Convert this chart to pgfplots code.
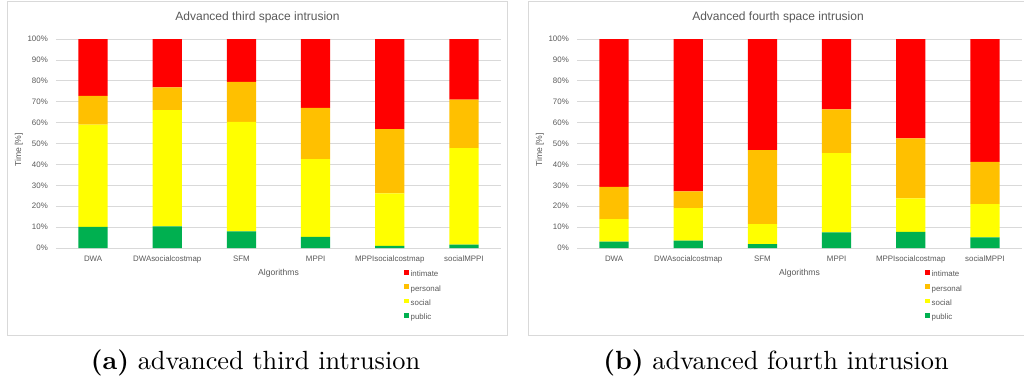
\documentclass[border=0pt]{standalone}
\usepackage{fontspec}
\setsansfont{Liberation Sans}
\newfontfamily\capfont{lmroman10}[Extension=.otf, UprightFont=*-regular, BoldFont=*-bold]
\usepackage{pgfplots}
\pgfplotsset{compat=1.18}
\usepackage{pgfplotstable}

\definecolor{cIntimate}{HTML}{FF0000}
\definecolor{cPersonal}{HTML}{FFC000}
\definecolor{cSocial}{HTML}{FFFF00}
\definecolor{cPublic}{HTML}{00B050}
\definecolor{txt}{HTML}{595959}
\definecolor{gridc}{HTML}{D9D9D9}

% share of time [%] spent in each proxemic zone
\pgfplotstableread{
idx public social personal intimate
0 10.1 48.9 13.8 27.2
1 10.4 55.6 10.8 23.2
2  7.9 52.5 19.1 20.5
3  5.3 37.2 24.5 33.0
4  1.0 25.1 30.8 43.1
5  1.6 46.2 23.2 29.0
}\thirdtab

\pgfplotstableread{
idx public social personal intimate
0 3.0 10.8 15.4 70.8
1 3.5 15.6  8.0 72.9
2 1.8  9.6 35.4 53.2
3 7.5 37.9 20.9 33.7
4 7.7 16.0 28.7 47.6
5 5.1 15.9 20.2 58.8
}\fourthtab

\newcommand{\lblfont}{\sffamily\fontsize{7.9}{9}\selectfont}
\newcommand{\axfont}{\sffamily\fontsize{8.6}{10}\selectfont}

\pgfplotsset{
  intrusion/.style={
    scale only axis, width=445pt, height=209pt,
    ybar stacked, bar width=29.3pt,
    xmin=-0.5, xmax=5.5, ymin=0, ymax=100,
    xtick={0,1,2,3,4,5},
    xticklabels={DWA,DWAsocialcostmap,SFM,MPPI,MPPIsocialcostmap,socialMPPI},
    ytick={0,10,20,30,40,50,60,70,80,90,100},
    yticklabels={0\%,10\%,20\%,30\%,40\%,50\%,60\%,70\%,80\%,90\%,100\%},
    axis line style={draw=none},
    major tick length=0pt,
    ymajorgrids, grid style={gridc, line width=0.8pt},
    tick label style={font=\lblfont, text=txt},
    yticklabel style={anchor=east, inner sep=0pt, xshift=-8pt},
    xticklabel style={anchor=north, inner sep=0pt, yshift=-8pt},
    xlabel={Algorithms},
    ylabel={Time [\%]},
    label style={font=\axfont, text=txt},
    xlabel style={at={(rel axis cs:0.5,0)}, anchor=center, yshift=-25pt},
    ylabel style={at={(rel axis cs:0,0.47)}, anchor=center, yshift=37pt},
    reverse legend,
    legend cell align=left,
    legend image code/.code={\fill[##1] (0pt,0pt) rectangle (4.7pt,4.7pt);},
    legend style={draw=none, fill=none, inner sep=0pt, outer sep=0pt,
      at={(rel axis cs:0.782,-0.105)}, anchor=north west,
      font=\lblfont, text=txt, column sep=2pt, row sep=5.9pt,
      nodes={inner sep=0pt, text height=5.8pt, text depth=1.6pt}},
  },
}

\begin{document}
\begin{tikzpicture}
\useasboundingbox (0pt,0pt) rectangle (1024pt,381pt);

% chart frames
\draw[gridc, line width=1pt] (7.3pt,46pt) rectangle (507.7pt,379.5pt);
\draw[gridc, line width=1pt] (528pt,46pt) rectangle (1030pt,379.5pt);

% chart titles
\node[font=\sffamily\fontsize{12}{14}\selectfont, text=txt] at (257.5pt,364pt) {Advanced third space intrusion};
\node[font=\sffamily\fontsize{12}{14}\selectfont, text=txt] at (778pt,364pt) {Advanced fourth space intrusion};

\begin{axis}[intrusion, at={(56pt,133pt)}, anchor=south west]
  \addplot[fill=cPublic, draw=none] table[x=idx, y=public] {\thirdtab};
  \addplot[fill=cSocial, draw=none] table[x=idx, y=social] {\thirdtab};
  \addplot[fill=cPersonal, draw=none] table[x=idx, y=personal] {\thirdtab};
  \addplot[fill=cIntimate, draw=none] table[x=idx, y=intimate] {\thirdtab};
  \legend{public,social,personal,intimate}
\end{axis}

\begin{axis}[intrusion, at={(577pt,133pt)}, anchor=south west]
  \addplot[fill=cPublic, draw=none] table[x=idx, y=public] {\fourthtab};
  \addplot[fill=cSocial, draw=none] table[x=idx, y=social] {\fourthtab};
  \addplot[fill=cPersonal, draw=none] table[x=idx, y=personal] {\fourthtab};
  \addplot[fill=cIntimate, draw=none] table[x=idx, y=intimate] {\fourthtab};
  \legend{public,social,personal,intimate}
\end{axis}

% subfigure captions
\node[anchor=base, font=\capfont\fontsize{26.3}{30}\selectfont] at (255.5pt,12pt) {\textbf{(a)} advanced third intrusion};
\node[anchor=base, font=\capfont\fontsize{26.3}{30}\selectfont] at (776pt,12pt) {\textbf{(b)} advanced fourth intrusion};
\end{tikzpicture}
\end{document}
